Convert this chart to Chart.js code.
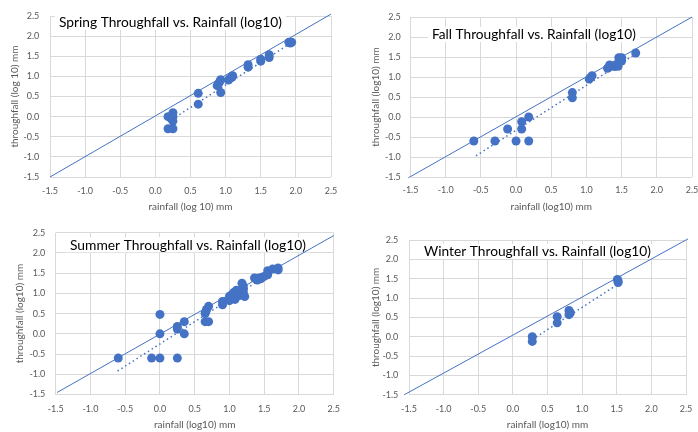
<!DOCTYPE html>
<html>
<head>
<meta charset="utf-8">
<script src="https://cdn.jsdelivr.net/npm/chart.js@4.4.0/dist/chart.umd.min.js"></script>
<style>
  html, body { margin: 0; padding: 0; background: #fff; }
  body { position: relative; width: 698px; height: 432px; overflow: hidden; }
  canvas { position: absolute; }
</style>
</head>
<body>
<canvas id="spring"></canvas>
<canvas id="fall"></canvas>
<canvas id="summer"></canvas>
<canvas id="winter"></canvas>
<script>
// ---- data (log10 values) ----
const springRain = [0.18, 0.25, 0.25, 0.25, 0.18, 0.25, 0.61, 0.61, 0.88, 0.90, 0.92, 0.93, 0.93, 1.04, 1.06, 1.10, 1.09, 1.32, 1.32, 1.50, 1.50, 1.62, 1.62, 1.90, 1.92, 1.94];
const springThru = [0.00, 0.10, 0.00, -0.11, -0.30, -0.30, 0.58, 0.31, 0.77, 0.82, 0.88, 0.92, 0.60, 0.91, 0.95, 1.02, 0.98, 1.23, 1.29, 1.38, 1.43, 1.47, 1.54, 1.85, 1.83, 1.85];
const springTrendX = [0.18, 1.92];
const springTrendY = [-0.13, 1.82];
const springRefX = [-1.5, 2.5];
const springRefY = [-1.5, 2.55];

const fallRain = [-0.60, -0.30, -0.12, 0.00, 0.08, 0.08, 0.18, 0.18, 0.80, 0.80, 1.04, 1.06, 1.08, 1.30, 1.32, 1.33, 1.40, 1.42, 1.45, 1.46, 1.50, 1.50, 1.70];
const fallThru = [-0.60, -0.60, -0.30, -0.60, -0.12, -0.30, 0.00, -0.60, 0.61, 0.48, 0.95, 0.99, 1.03, 1.22, 1.25, 1.30, 1.26, 1.30, 1.27, 1.48, 1.48, 1.40, 1.60];
const fallTrendX = [-0.57, 1.72];
const fallTrendY = [-0.97, 1.60];
const fallRefX = [-1.53, 2.5];
const fallRefY = [-1.52, 2.5];

const summerRain = [-0.60, -0.12, 0.00, 0.25, 0.00, 0.00, 0.25, 0.25, 0.35, 0.35, 0.65, 0.70, 0.65, 0.67, 0.70, 0.66, 0.90, 0.90, 1.00, 1.00, 1.04, 1.08, 1.10, 1.12, 1.15, 1.18, 1.20, 1.20, 1.22, 1.06, 1.12, 1.16, 1.20, 1.36, 1.40, 1.43, 1.50, 1.47, 1.38, 1.45, 1.55, 1.55, 1.62, 1.70, 1.70];
const summerThru = [-0.60, -0.60, -0.60, -0.60, 0.48, 0.00, 0.18, 0.12, 0.30, 0.00, 0.30, 0.30, 0.50, 0.60, 0.68, 0.55, 0.72, 0.80, 0.82, 0.93, 0.98, 0.85, 1.08, 1.00, 0.95, 1.25, 1.18, 1.10, 0.92, 1.02, 1.06, 1.05, 1.02, 1.38, 1.33, 1.38, 1.42, 1.40, 1.36, 1.36, 1.56, 1.46, 1.60, 1.63, 1.58];
const summerTrendX = [-0.61, 1.70];
const summerTrendY = [-0.92, 1.62];
const summerRefX = [-1.48, 2.5];
const summerRefY = [-1.45, 2.43];

const winterRain = [0.28, 0.28, 0.64, 0.64, 0.81, 0.83, 0.81, 1.51, 1.52, 1.52];
const winterThru = [0.00, -0.12, 0.52, 0.36, 0.68, 0.62, 0.57, 1.48, 1.44, 1.40];
const winterTrendX = [0.28, 1.52];
const winterTrendY = [-0.07, 1.36];
const winterRefX = [-1.57, 2.53];
const winterRefY = [-1.5, 2.53];

const tickValues = [-1.5, -1.0, -0.5, 0.0, 0.5, 1.0, 1.5, 2.0, 2.5];

// ---- style ----
const BLUE = '#4472C4';
const GRID = '#D9D9D9';
const TEXT = '#595959';
const FONT = 'Lato';

const toPoints = (xs, ys) => xs.map((x, i) => ({ x: x, y: ys[i] }));

// chart title laid over the plot area, with a white box behind it
const overlayTitle = {
  id: 'overlayTitle',
  beforeDatasetsDraw(chart, args, opts) {
    const ctx = chart.ctx;
    ctx.save();
    ctx.font = '14px ' + FONT;
    const size = 14 * opts.width / ctx.measureText(opts.text).width;
    ctx.font = size + 'px ' + FONT;
    ctx.fillStyle = '#fff';
    ctx.fillRect(opts.x - 4, opts.y - 8, opts.width + 8, 15);
    ctx.fillStyle = '#000';
    ctx.textBaseline = 'middle';
    ctx.fillText(opts.text, opts.x, opts.y);
    ctx.restore();
  }
};

function makePanel(p) {
  const cv = document.getElementById(p.id);
  cv.width = p.box.w;
  cv.height = p.box.h;
  cv.style.left = p.box.x + 'px';
  cv.style.top = p.box.y + 'px';
  cv.style.width = p.box.w + 'px';
  cv.style.height = p.box.h + 'px';

  const area = p.area;
  return new Chart(cv, {
    type: 'scatter',
    data: {
      datasets: [
        {
          data: toPoints(p.refX, p.refY),
          showLine: true, borderColor: BLUE, borderWidth: 1,
          pointRadius: 0, clip: false
        },
        {
          data: toPoints(p.trendX, p.trendY),
          showLine: true, borderColor: BLUE, borderWidth: 1.5,
          borderDash: [1.5, 3], pointRadius: 0
        },
        {
          data: toPoints(p.rain, p.thru),
          backgroundColor: BLUE, borderColor: BLUE, borderWidth: 0,
          pointRadius: 4.5, pointHoverRadius: 4.5
        }
      ]
    },
    options: {
      responsive: false,
      animation: false,
      devicePixelRatio: 1,
      events: [],
      layout: {
        padding: {
          top: area.t - p.box.y,
          right: p.box.x + p.box.w - area.r,
          left: 0, bottom: 0
        }
      },
      plugins: {
        legend: { display: false },
        tooltip: { enabled: false },
        overlayTitle: { text: p.title, x: p.titlePos.x - p.box.x, y: p.titlePos.y - p.box.y, width: p.titlePos.w }
      },
      scales: {
        x: {
          type: 'linear', min: -1.5, max: 2.5,
          afterBuildTicks: s => { s.ticks = tickValues.map(v => ({ value: v })); },
          afterFit: s => { s.height = p.box.y + p.box.h - area.b; },
          ticks: { callback: v => v.toFixed(1), color: TEXT, font: { family: FONT, size: 9 }, padding: p.xTickPad, maxRotation: 0 },
          grid: { color: GRID, drawTicks: false },
          border: { display: false },
          title: { display: true, text: p.xTitle, color: TEXT, font: { family: FONT, size: 10 }, padding: 0 }
        },
        y: {
          type: 'linear', min: -1.5, max: 2.5,
          afterBuildTicks: s => { s.ticks = tickValues.map(v => ({ value: v })); },
          afterFit: s => { s.width = area.l - p.box.x; },
          ticks: { callback: v => v.toFixed(1), color: TEXT, font: { family: FONT, size: 9 }, padding: p.yTickPad },
          grid: { color: GRID, drawTicks: false },
          border: { display: false },
          title: { display: true, text: p.yTitle, color: TEXT, font: { family: FONT, size: 10 }, padding: { top: p.yTitlePad, bottom: 0 } }
        }
      }
    },
    plugins: [overlayTitle]
  });
}

makePanel({
  id: 'spring', title: 'Spring Throughfall vs. Rainfall (log10)',
  xTitle: 'rainfall (log 10) mm', yTitle: 'throughfall (log 10) mm',
  rain: springRain, thru: springThru, trendX: springTrendX, trendY: springTrendY, refX: springRefX, refY: springRefY,
  box: { x: 0, y: 0, w: 349, h: 213 }, area: { l: 50, t: 12, r: 331, b: 177 },
  titlePos: { x: 59, y: 23, w: 223 }, xTickPad: 8.6, yTickPad: 10.7, yTitlePad: 9
});

makePanel({
  id: 'fall', title: 'Fall Throughfall vs. Rainfall (log10)',
  xTitle: 'rainfall (log10) mm', yTitle: 'throughfall (log10) mm',
  rain: fallRain, thru: fallThru, trendX: fallTrendX, trendY: fallTrendY, refX: fallRefX, refY: fallRefY,
  box: { x: 360, y: 0, w: 360, h: 213 }, area: { l: 410.5, t: 17, r: 692, b: 177 },
  titlePos: { x: 432, y: 35, w: 204 }, xTickPad: 7.5, yTickPad: 9.7, yTitlePad: 9.7
});

makePanel({
  id: 'summer', title: 'Summer Throughfall vs. Rainfall (log10)',
  xTitle: 'rainfall (log10) mm', yTitle: 'throughfall (log10) mm',
  rain: summerRain, thru: summerThru, trendX: summerTrendX, trendY: summerTrendY, refX: summerRefX, refY: summerRefY,
  box: { x: 0, y: 216, w: 349, h: 215 }, area: { l: 55.7, t: 232.7, r: 336, b: 394.5 },
  titlePos: { x: 70, y: 245.3, w: 236 }, xTickPad: 9, yTickPad: 10.4, yTitlePad: 14
});

makePanel({
  id: 'winter', title: 'Winter Throughfall vs. Rainfall (log10)',
  xTitle: 'rainfall (log10) mm', yTitle: 'throughfall (log10) mm',
  rain: winterRain, thru: winterThru, trendX: winterTrendX, trendY: winterTrendY, refX: winterRefX, refY: winterRefY,
  box: { x: 360, y: 216, w: 360, h: 215 }, area: { l: 409, t: 240, r: 686, b: 394.8 },
  titlePos: { x: 424, y: 252, w: 227 }, xTickPad: 9.2, yTickPad: 10.7, yTitlePad: 9.7
});
</script>
</body>
</html>
